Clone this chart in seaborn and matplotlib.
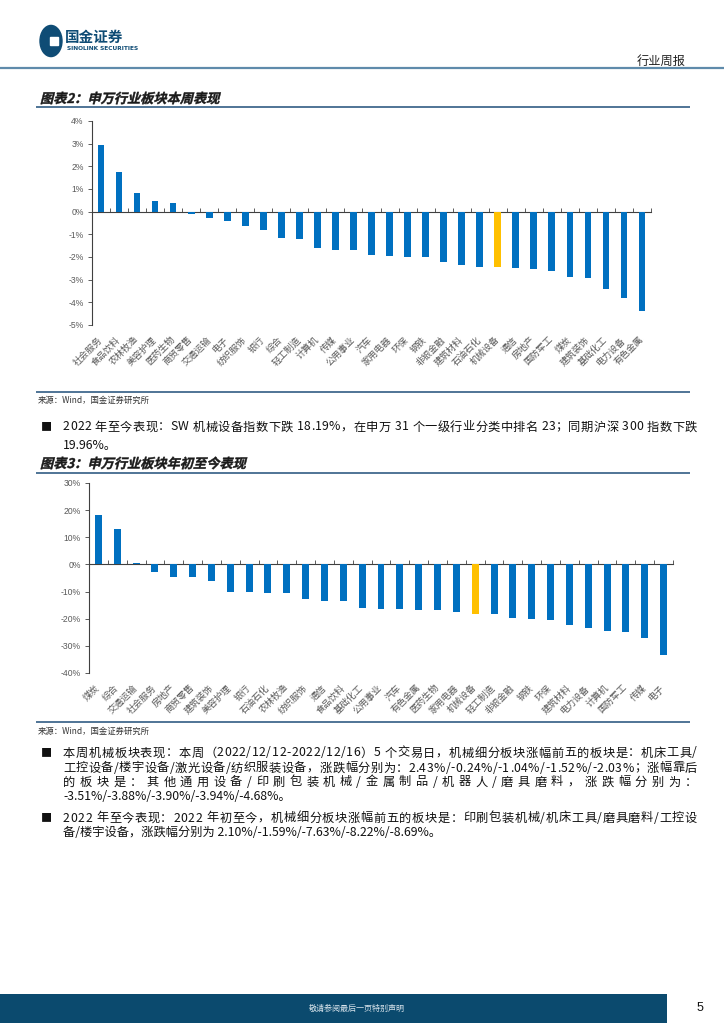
import numpy as np
import pandas as pd
import matplotlib
matplotlib.use("Agg")
import matplotlib.pyplot as plt
import seaborn as sns
from matplotlib.textpath import TextPath
from matplotlib.patches import PathPatch, Rectangle, Circle
from matplotlib.font_manager import FontProperties
from matplotlib.transforms import Affine2D
from matplotlib.lines import Line2D

# ---------------- data ----------------
week_cats = ["社会服务", "食品饮料", "农林牧渔", "美容护理", "医药生物", "商贸零售", "交通运输",
             "电子", "纺织服饰", "银行", "综合", "轻工制造", "计算机", "传媒", "公用事业", "汽车",
             "家用电器", "环保", "钢铁", "非银金融", "建筑材料", "石油石化", "机械设备", "通信",
             "房地产", "国防军工", "煤炭", "建筑装饰", "基础化工", "电力设备", "有色金属"]
week_vals = [2.95, 1.76, 0.82, 0.49, 0.37, -0.09, -0.28, -0.43, -0.63, -0.82, -1.16, -1.19,
             -1.60, -1.68, -1.68, -1.93, -1.96, -2.00, -2.00, -2.24, -2.35, -2.43, -2.43, -2.47,
             -2.51, -2.60, -2.87, -2.93, -3.41, -3.81, -4.37]
week_yticks = [4, 3, 2, 1, 0, -1, -2, -3, -4, -5]
week_ylabels = ["4%", "3%", "2%", "1%", "0%", "-1%", "-2%", "-3%", "-4%", "-5%"]

ytd_cats = ["煤炭", "综合", "交通运输", "社会服务", "房地产", "商贸零售", "建筑装饰", "美容护理",
            "银行", "石油石化", "农林牧渔", "纺织服饰", "通信", "食品饮料", "基础化工", "公用事业",
            "汽车", "有色金属", "医药生物", "家用电器", "机械设备", "轻工制造", "非银金融", "钢铁",
            "环保", "建筑材料", "电力设备", "计算机", "国防军工", "传媒", "电子"]
ytd_vals = [18.2, 12.9, 0.6, -2.8, -4.5, -4.8, -6.1, -10.1, -10.1, -10.4, -10.4, -12.6, -13.4,
            -13.4, -15.9, -16.5, -16.5, -16.7, -16.7, -17.7, -18.19, -18.4, -19.9, -20.1, -20.5,
            -22.2, -23.5, -24.5, -24.8, -27.2, -33.5]
ytd_yticks = [30, 20, 10, 0, -10, -20, -30, -40]
ytd_ylabels = ["30%", "20%", "10%", "0%", "-10%", "-20%", "-30%", "-40%"]

HIGHLIGHT = "机械设备"
BLUE = "#0070C0"
GOLD = "#FFC000"

# ---------------- setup ----------------
sns.set_theme(style="white")
plt.rcParams["font.family"] = ["Noto Sans CJK SC", "DejaVu Sans"]
plt.rcParams["axes.unicode_minus"] = False

W, H = 724, 1024
fig = plt.figure(figsize=(7.24, 10.24), dpi=100)
fig.patch.set_facecolor("white")


def fx(x):
    return x / W


def fy(y):
    return 1 - y / H


def hline(y, x0, x1, color, lw):
    fig.add_artist(Line2D([fx(x0), fx(x1)], [fy(y), fy(y)], transform=fig.transFigure,
                          color=color, lw=lw, solid_capstyle="butt"))


def skew_text(s, x, y_base, size_px, color="#1a1a1a"):
    fp = FontProperties(family="Noto Sans CJK SC", weight="bold")
    tp = TextPath((0, 0), s, size=size_px, prop=fp)
    tr = Affine2D().skew_deg(14, 0).translate(x, H - y_base)
    fig.add_artist(PathPatch(tp, transform=tr, facecolor=color, edgecolor=color, lw=0.3))


renderer = fig.canvas.get_renderer()


def justify(s, x0, x1, y, size, color="#111111"):
    widths = []
    for ch in s:
        t = fig.text(0, 0, ch, fontsize=size)
        w = t.get_window_extent(renderer).width
        if ch == " ":
            w = size * 1.389 * 0.25
        widths.append(w)
        t.remove()
    gap = (x1 - x0 - sum(widths)) / (len(s) - 1)
    x = x0
    for ch, w in zip(s, widths):
        if ch != " ":
            fig.text(fx(x), fy(y), ch, fontsize=size, color=color, ha="left", va="center")
        x += w + gap


def plain(s, x, y, size, color="#111111", **kw):
    fig.text(fx(x), fy(y), s, fontsize=size, color=color, va="center", **kw)


def bar_chart(rect, cats, vals, yticks, ylabels, ylim):
    ax = fig.add_axes(rect)
    colors = [GOLD if c == HIGHLIGHT else BLUE for c in cats]
    df = pd.DataFrame({"cat": cats, "val": vals})
    sns.barplot(data=df, x="cat", y="val", hue="cat", order=cats, hue_order=cats,
                palette=colors, legend=False, width=0.37, saturation=1, linewidth=0, ax=ax)
    ax.set_xlim(-0.5, len(cats) - 0.5)
    ax.set_ylim(*ylim)
    ax.set_xlabel("")
    ax.set_ylabel("")
    ax.set_facecolor("white")
    for s in ["top", "right", "bottom"]:
        ax.spines[s].set_visible(False)
    ax.spines["left"].set_color("#404040")
    ax.spines["left"].set_linewidth(0.8)
    ax.set_yticks(yticks, ylabels)
    ax.tick_params(axis="y", left=True, direction="out", length=3, width=0.6, color="#404040",
                   labelsize=6.2, labelcolor="#595959", pad=3)
    for t in ax.get_yticklabels():
        t.set_fontfamily(["Liberation Sans", "DejaVu Sans"])
    ax.set_xticks(range(len(cats)), cats)
    ax.tick_params(axis="x", bottom=True, length=0, labelsize=6.6, labelcolor="#595959", pad=9.5)
    for t in ax.get_xticklabels():
        t.set_rotation(45)
        t.set_ha("right")
        t.set_va("center")
        t.set_rotation_mode("anchor")
    sec = ax.secondary_xaxis(0, transform=ax.transData)
    sec.set_xticks(np.arange(-0.5, len(cats)), labels=[])
    sec.tick_params(axis="x", direction="in", length=3, width=0.6, color="#404040")
    for s in sec.spines.values():
        s.set_color("#404040")
        s.set_linewidth(0.8)
    return ax


# ---------------- header ----------------
fig.add_artist(Circle((fx(51), fy(41)), 11 / W, transform=fig.transFigure, color="#0f4c75"))
fig.add_artist(Rectangle((fx(50), fy(45)), 8 / W, 8 / H, transform=fig.transFigure, color="white"))
plain("国金证券", 65, 37, 10.5, color="#0f4c75", fontweight="bold")
plain("SINOLINK SECURITIES", 67, 48, 4.2, color="#0f4c75", fontweight="bold",
      family=["DejaVu Sans"])
plain("行业周报", 637, 61, 8.8, color="#222222")
hline(68, 0, 724, "#5f8bab", 1.6)

# ---------------- chart 2 (weekly) ----------------
skew_text("图表2：申万行业板块本周表现", 40, 103, 13.2)
hline(107, 36, 690, "#1f4e79", 1.1)
bar_chart([fx(92), fy(325), (651 - 92) / W, (325 - 121) / H],
          week_cats, week_vals, week_yticks, week_ylabels, (-5, 4))
hline(392, 36, 690, "#1f4e79", 1.1)
plain("来源：Wind，国金证券研究所", 38, 400, 6.0, color="#333333")

plain("■", 41, 427, 8, color="#111111")
justify("2022 年至今表现：SW 机械设备指数下跌 18.19%，在申万 31 个一级行业分类中排名 23；同期沪深 300 指数下跌",
        63, 697, 427, 8.8)
plain("19.96%。", 63, 446, 8.8)

# ---------------- chart 3 (YTD) ----------------
skew_text("图表3：申万行业板块年初至今表现", 40, 468, 13.2)
hline(473, 36, 690, "#1f4e79", 1.1)
bar_chart([fx(89), fy(673), (673 - 89) / W, (673 - 483) / H],
          ytd_cats, ytd_vals, ytd_yticks, ytd_ylabels, (-40, 30))
hline(722, 36, 690, "#1f4e79", 1.1)
plain("来源：Wind，国金证券研究所", 38, 731, 6.0, color="#333333")

plain("■", 41, 753, 8, color="#111111")
justify("本周机械板块表现：本周（2022/12/12-2022/12/16）5 个交易日，机械细分板块涨幅前五的板块是：机床工具/",
        63, 697, 753, 8.8)
justify("工控设备/楼宇设备/激光设备/纺织服装设备，涨跌幅分别为：2.43%/-0.24%/-1.04%/-1.52%/-2.03%；涨幅靠后",
        63, 697, 768, 8.8)
justify("的板块是：其他通用设备/印刷包装机械/金属制品/机器人/磨具磨料，涨跌幅分别为：",
        63, 697, 782, 8.8)
plain("-3.51%/-3.88%/-3.90%/-3.94%/-4.68%。", 63, 797, 8.8)

plain("■", 41, 818, 8, color="#111111")
justify("2022 年至今表现：2022 年初至今，机械细分板块涨幅前五的板块是：印刷包装机械/机床工具/磨具磨料/工控设",
        63, 697, 818, 8.8)
plain("备/楼宇设备，涨跌幅分别为 2.10%/-1.59%/-7.63%/-8.22%/-8.69%。", 63, 833, 8.8)

# ---------------- footer ----------------
fig.add_artist(Rectangle((0, fy(1023)), fx(667), (1023 - 994) / H, transform=fig.transFigure,
                         color="#0b4a6e", lw=0))
plain("敬请参阅最后一页特别声明", 357, 1008, 5.8, color="#d9e4ec", ha="center")
plain("5", 700, 1008, 9, color="#111111", ha="center", family=["Liberation Sans"])

fig.savefig("out.png", dpi=100, facecolor="white")
